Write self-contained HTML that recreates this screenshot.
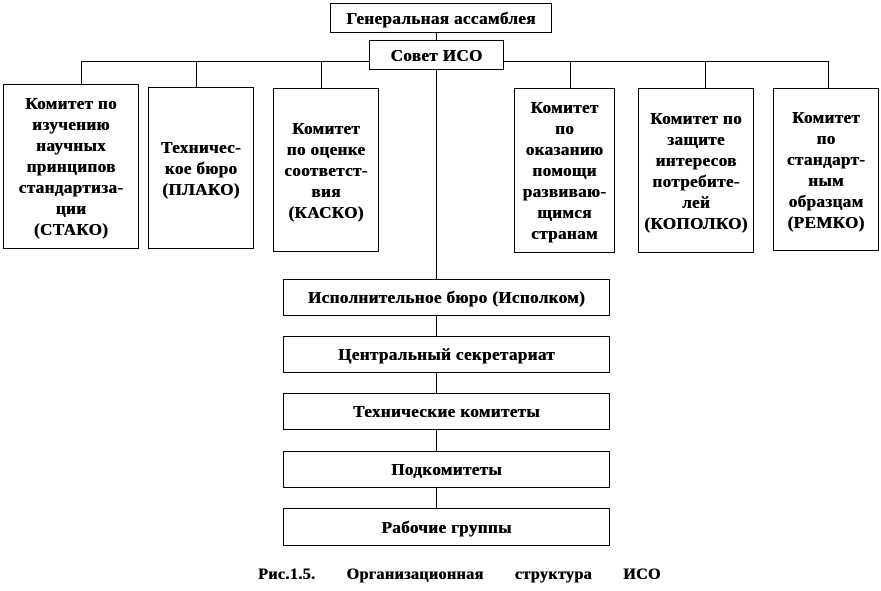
<!DOCTYPE html>
<html><head><meta charset="utf-8"><style>
body{margin:0;width:881px;height:591px;background:#fff;position:relative;overflow:hidden;font-family:"Liberation Serif",serif;color:#000}
.b{position:absolute;border:1px solid #000;box-sizing:border-box;display:flex;align-items:center;justify-content:center;text-align:center;font-size:17px;line-height:21px;background:#fff;font-weight:bold;letter-spacing:0.4px;text-shadow:0.5px 0 0 #000}
.h{position:absolute;height:1px;background:#000}
.v{position:absolute;width:1px;background:#000}
</style></head><body>
<div class="v" style="left:436px;top:32px;height:8px"></div>
<div class="h" style="left:81px;top:61px;width:748px"></div>
<div class="v" style="left:436px;top:69px;height:210px"></div>
<div class="v" style="left:81px;top:61px;height:24px"></div>
<div class="v" style="left:196px;top:61px;height:26px"></div>
<div class="v" style="left:321px;top:61px;height:27px"></div>
<div class="v" style="left:570px;top:61px;height:27px"></div>
<div class="v" style="left:705px;top:61px;height:27px"></div>
<div class="v" style="left:828px;top:61px;height:27px"></div>
<div class="v" style="left:436px;top:316px;height:200px"></div>

<div class="b" style="left:330px;top:3px;width:222px;height:30px">Генеральная ассамблея</div>
<div class="b" style="left:369px;top:40px;width:135px;height:30px">Совет ИСО</div>

<div class="b" style="left:3px;top:84px;width:136px;height:165px">Комитет по<br>изучению<br>научных<br>принципов<br>стандартиза-<br>ции<br>(СТАКО)</div>
<div class="b" style="left:148px;top:87px;width:106px;height:162px">Техничес-<br>кое бюро<br>(ПЛАКО)</div>
<div class="b" style="left:273px;top:88px;width:106px;height:164px">Комитет<br>по оценке<br>соответст-<br>вия<br>(КАСКО)</div>
<div class="b" style="left:514px;top:88px;width:101px;height:165px">Комитет<br>по<br>оказанию<br>помощи<br>развиваю-<br>щимся<br>странам</div>
<div class="b" style="left:638px;top:88px;width:116px;height:165px">Комитет по<br>защите<br>интересов<br>потребите-<br>лей<br>(КОПОЛКО)</div>
<div class="b" style="left:773px;top:88px;width:106px;height:163px">Комитет<br>по<br>стандарт-<br>ным<br>образцам<br>(РЕМКО)</div>

<div class="b" style="left:283px;top:279px;width:327px;height:37px">Исполнительное бюро (Исполком)</div>
<div class="b" style="left:283px;top:336px;width:327px;height:37px">Центральный секретариат</div>
<div class="b" style="left:283px;top:393px;width:327px;height:37px">Технические комитеты</div>
<div class="b" style="left:283px;top:451px;width:327px;height:37px">Подкомитеты</div>
<div class="b" style="left:283px;top:508px;width:327px;height:38px">Рабочие группы</div>

<div style="position:absolute;left:258px;top:566px;width:420px;font-size:16px;font-weight:bold;white-space:pre;letter-spacing:0.4px;word-spacing:6px;text-shadow:0.5px 0 0 #000">Рис.1.5.   Организационная   структура   ИСО</div>
</body></html>
